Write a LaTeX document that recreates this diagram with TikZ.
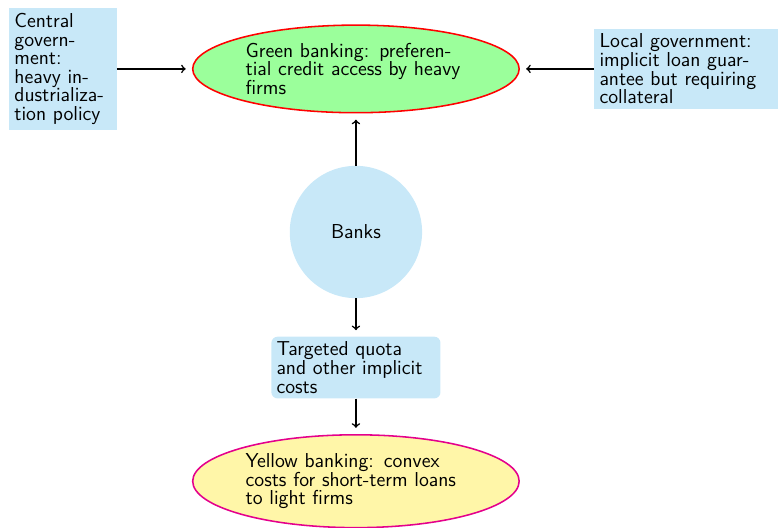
\documentclass[tikz,border=0pt]{standalone}
\usetikzlibrary{shapes.geometric,positioning}

\definecolor{boxblue}{RGB}{200,232,248}
\definecolor{greenfill}{RGB}{155,255,155}
\definecolor{yellowfill}{RGB}{255,246,168}
\definecolor{pinkline}{RGB}{228,0,140}

\begin{document}
\begin{tikzpicture}[font={\fontsize{13}{12}\selectfont\sffamily}]
\tikzset{
  infobox/.style={fill=boxblue, align=left},
  outcome/.style={ellipse, line width=1pt, text width=5cm, align=left},
  link/.style={->, line width=1pt, shorten >=4pt}
}
\useasboundingbox (0,0) rectangle (17.64,-11.97);

\node[circle, fill=boxblue, minimum size=3cm] (banks) at (8.07,-5.26) {Banks};
\node[outcome, draw=red, fill=greenfill, above=1.18cm of banks] (green)
  {Green banking: preferential credit access by heavy firms};
\node[infobox, text width=2.2cm, left=1.7cm of green] (central)
  {Central government: heavy industrialization policy};
\node[infobox, text width=4cm, right=1.68cm of green] (local)
  {Local government: implicit loan guarantee but requiring collateral};
\node[infobox, rounded corners, text width=3.6cm, below=0.86cm of banks] (quota)
  {Targeted quota and other implicit costs};
\node[outcome, draw=pinkline, fill=yellowfill, below=0.8cm of quota] (yellow)
  {Yellow banking: convex costs for short-term loans to light firms};

\draw[link] (central) -- (green);
\draw[link] (local) -- (green);
\draw[link] (banks) -- (green);
\draw[link] (banks) -- (quota);
\draw[link] (quota) -- (yellow);
\end{tikzpicture}
\end{document}
